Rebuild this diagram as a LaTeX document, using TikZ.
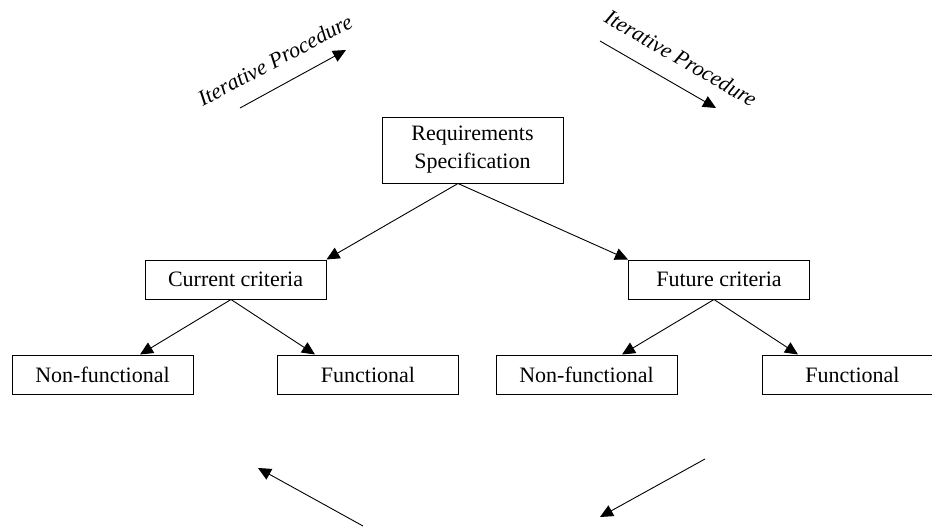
\documentclass[tikz,border=0pt]{standalone}
\usepackage{fontspec}
\setmainfont{Liberation Serif}
\usetikzlibrary{arrows.meta}
\begin{document}
\begin{tikzpicture}[x=1pt,y=-1pt,
  box/.style={draw,line width=1pt,minimum width=181pt,inner sep=0pt,align=center,
    font=\fontsize{22}{28}\selectfont},
  link/.style={line width=0.9pt,-{Triangle[length=13pt,width=12pt]}},
  loop/.style={font=\fontsize{22}{26}\selectfont\itshape}]
\useasboundingbox (0,0) rectangle (932,527);

% hierarchy
\node[box,minimum height=66pt] (req) at (472.5,150) {Requirements\\Specification};
\node[box,minimum height=39pt] (cur) at (235.5,279.5) {Current criteria};
\node[box,minimum height=39pt] (fut) at (719,279.5) {Future criteria};
\node[box,minimum height=39pt] (nfl) at (102.5,374.5) {Non-functional};
\node[box,minimum height=39pt] (fl)  at (368,374.5) {Functional};
\node[box,minimum height=39pt] (nfr) at (586.5,374.5) {Non-functional};
\node[box,minimum height=39pt] (fr)  at (852.5,374.5) {Functional};

\draw[link] ([xshift=-14.5pt]req.south) -- (cur.north east);
\draw[link] ([xshift=-14.5pt]req.south) -- (fut.north west);
\draw[link] ([xshift=-4.5pt]cur.south) -- ([xshift=37.5pt]nfl.north);
\draw[link] ([xshift=-4.5pt]cur.south) -- ([xshift=-53pt]fl.north);
\draw[link] ([xshift=-5pt]fut.south) -- ([xshift=35.5pt]nfr.north);
\draw[link] ([xshift=-5pt]fut.south) -- ([xshift=-54.5pt]fr.north);

% iteration arrows
\coordinate (ia1) at (240,108);
\coordinate (ib1) at (346,50);
\coordinate (ia2) at (600,41);
\coordinate (ib2) at (716,108);
\coordinate (ia3) at (363,526);
\coordinate (ib3) at (258,468);
\coordinate (ia4) at (705,459);
\coordinate (ib4) at (600,517);
\draw[link] (ia1) -- (ib1);
\draw[link] (ia2) -- (ib2);
\draw[link] (ia3) -- (ib3);
\draw[link] (ia4) -- (ib4);

\node[loop,rotate=28] (lbl1) at (275,60) {Iterative Procedure};
\node[loop,rotate=-30] (lbl2) at (681,58) {Iterative Procedure};
\end{tikzpicture}
\end{document}
